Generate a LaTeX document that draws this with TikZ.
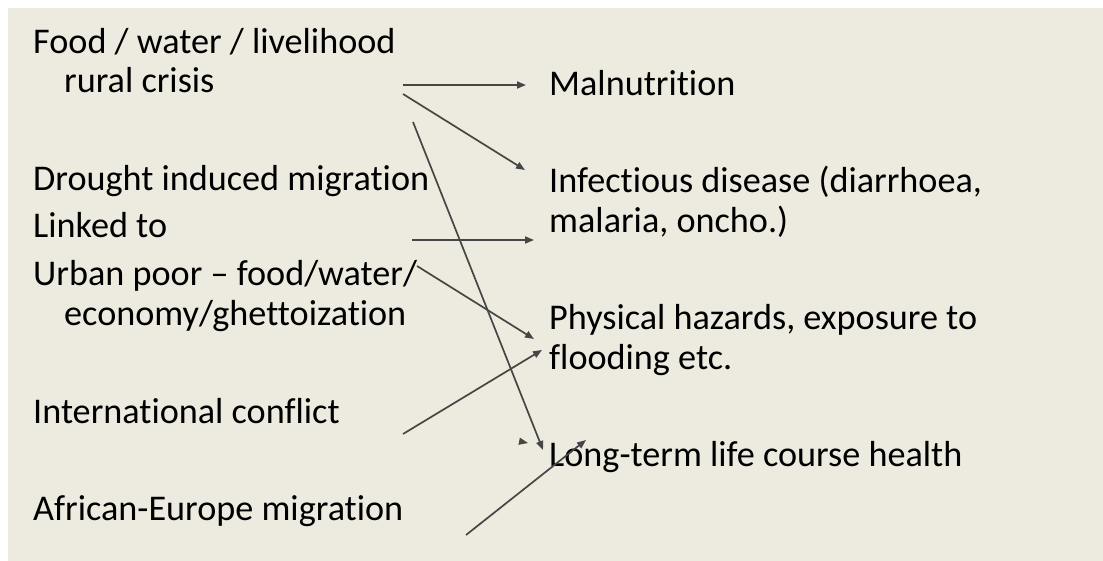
\documentclass[tikz,border=0pt]{standalone}
\usepackage{fontspec}
\setmainfont{Carlito}[RawFeature={-liga;-dlig}]
\usetikzlibrary{arrows.meta}
\definecolor{bgc}{RGB}{237,234,224}
\definecolor{lnc}{RGB}{70,70,70}
\tikzset{
  lbl/.style={anchor=base west, inner sep=0pt, font=\fontsize{36.2}{40}\selectfont, text=black},
  arr/.style={draw=lnc, line width=1.7pt, -{Triangle[length=9pt,width=7pt]}},
}
\begin{document}
\begin{tikzpicture}[x=1pt,y=-1pt]
\useasboundingbox (0,0) rectangle (1103,561);
\fill[white] (0,0) rectangle (1103,561);
\fill[bgc] (8,8) rectangle (1103,561);
% left texts
\node[lbl] (t1) at (33,54) {Food / water / livelihood};
\node[lbl] (t2) at (64,93) {rural crisis};
\node[lbl] (t3) at (33,191) {Drought induced migration};
\node[lbl] (t4) at (33,238) {Linked to};
\node[lbl] (t5) at (33,286) {Urban poor -- food/water/};
\node[lbl] (t6) at (64,326) {economy/ghettoization};
\node[lbl] (t7) at (33,423) {International conflict};
\node[lbl] (t8) at (33,520) {African-Europe migration};
% right texts
\node[lbl] (r1) at (549,96) {Malnutrition};
\node[lbl] (r2) at (549,193) {Infectious disease (diarrhoea,};
\node[lbl] (r3) at (549,233) {malaria, oncho.)};
\node[lbl] (r4) at (549,330) {Physical hazards, exposure to};
\node[lbl] (r5) at (549,369) {flooding etc.};
\node[lbl] (r6) at (549,466) {Long-term life course health};
% connector end points
\coordinate (a1s) at (403,85);  \coordinate (a1e) at (526,85);
\coordinate (a2s) at (403,94);  \coordinate (a2e) at (525,170);
\coordinate (a3s) at (413,122); \coordinate (a3e) at (543,450);
\coordinate (a4s) at (412,240); \coordinate (a4e) at (534,240);
\coordinate (a5s) at (417,266); \coordinate (a5e) at (534,339);
\coordinate (a6s) at (403,434); \coordinate (a6e) at (542,350);
\coordinate (a7s) at (466,535); \coordinate (a7e) at (586,440);
\coordinate (a8s) at (523,442); \coordinate (a8e) at (528,443);
\draw[arr] (a1s) -- (a1e);
\draw[arr] (a2s) -- (a2e);
\draw[arr] (a3s) -- (a3e);
\draw[arr] (a4s) -- (a4e);
\draw[arr] (a5s) -- (a5e);
\draw[arr] (a6s) -- (a6e);
\draw[arr] (a7s) -- (a7e);
\draw[arr, line width=1pt] (a8s) -- (a8e);
\end{tikzpicture}
\end{document}
